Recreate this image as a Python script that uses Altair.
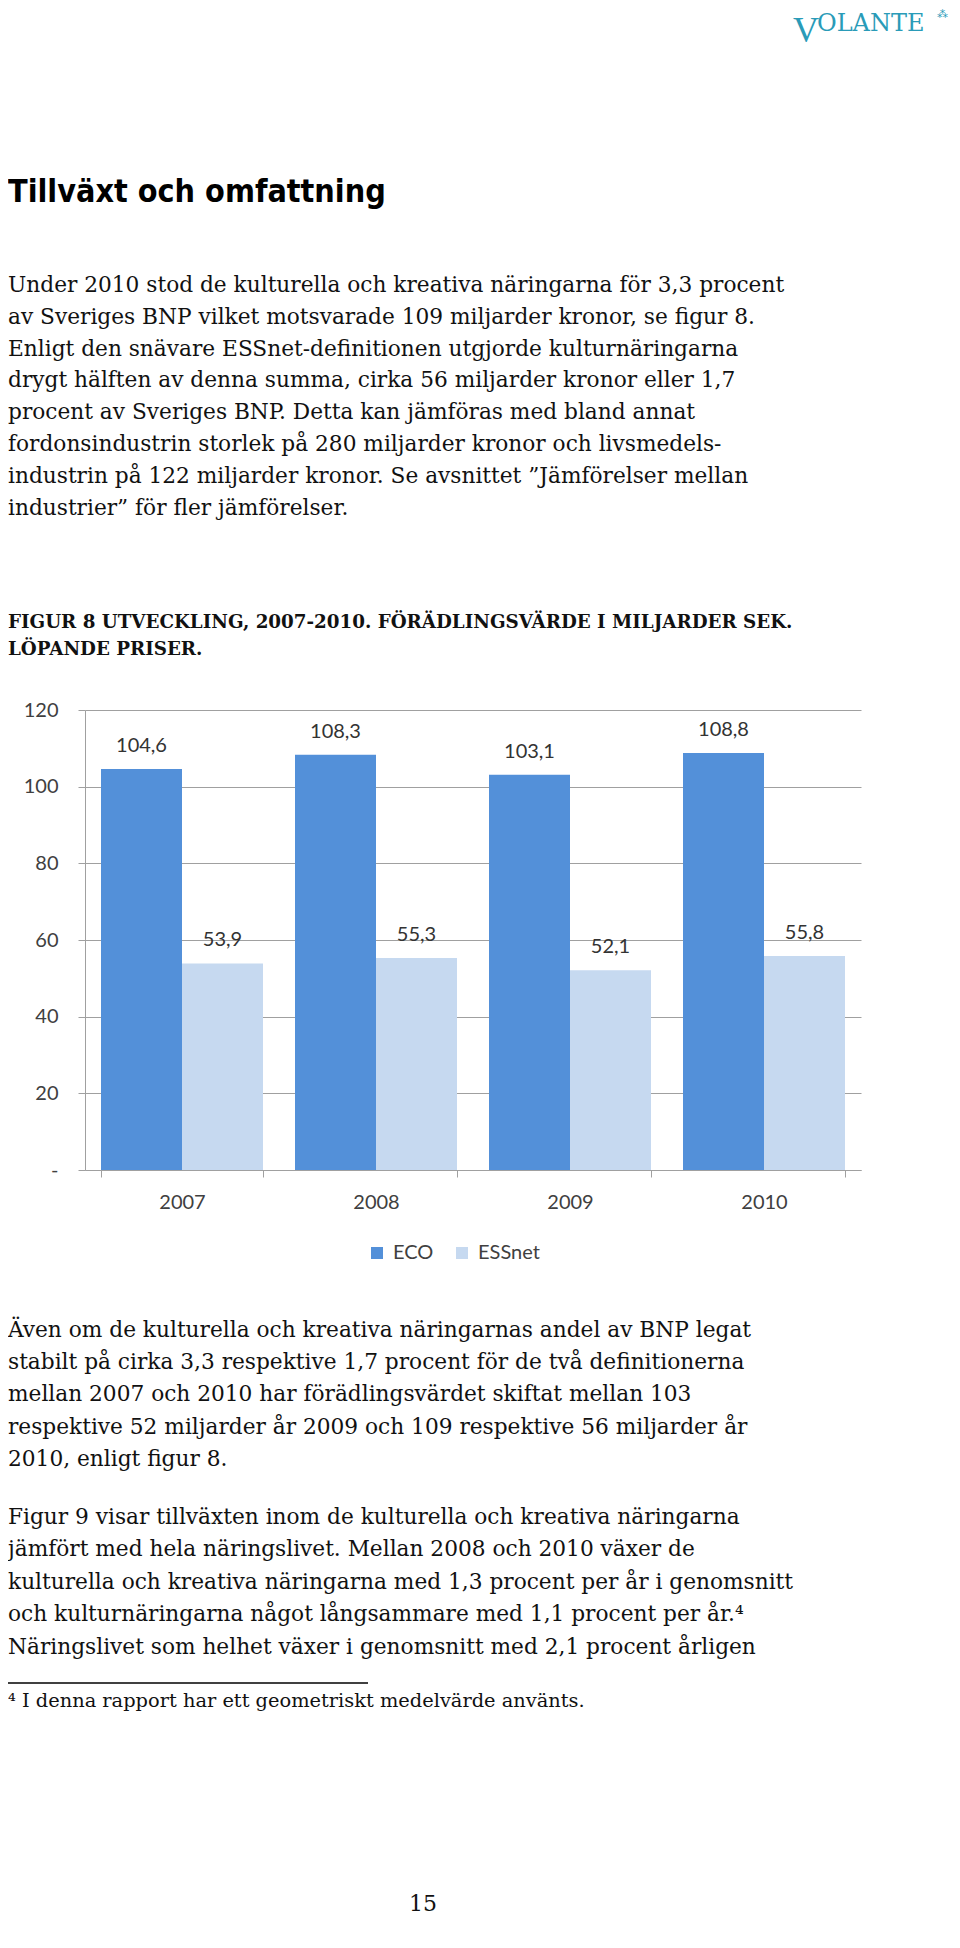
import altair as alt
import pandas as pd

# ---------------- data ----------------
years = ["2007", "2008", "2009", "2010"]
eco = [104.6, 108.3, 103.1, 108.8]
essnet = [53.9, 55.3, 52.1, 55.8]
series = ["ECO", "ESSnet"]
series_colors = ["#5390d9", "#c6d9f0"]
y_ticks = [0, 20, 40, 60, 80, 100, 120]

logo_big = "V"
logo_rest = "OLANTE"
logo_mark = "\u2042"
title_text = "Tillväxt och omfattning"
para1 = [
    "Under 2010 stod de kulturella och kreativa näringarna för 3,3 procent",
    "av Sveriges BNP vilket motsvarade 109 miljarder kronor, se figur 8.",
    "Enligt den snävare ESSnet-definitionen utgjorde kulturnäringarna",
    "drygt hälften av denna summa, cirka 56 miljarder kronor eller 1,7",
    "procent av Sveriges BNP. Detta kan jämföras med bland annat",
    "fordonsindustrin storlek på 280 miljarder kronor och livsmedels-",
    "industrin på 122 miljarder kronor. Se avsnittet \u201dJämförelser mellan",
    "industrier\u201d för fler jämförelser.",
]
caption = [
    "FIGUR 8 UTVECKLING, 2007-2010. FÖRÄDLINGSVÄRDE I MILJARDER SEK.",
    "LÖPANDE PRISER.",
]
para2 = [
    "Även om de kulturella och kreativa näringarnas andel av BNP legat",
    "stabilt på cirka 3,3 respektive 1,7 procent för de två definitionerna",
    "mellan 2007 och 2010 har förädlingsvärdet skiftat mellan 103",
    "respektive 52 miljarder år 2009 och 109 respektive 56 miljarder år",
    "2010, enligt figur 8.",
]
para3 = [
    "Figur 9 visar tillväxten inom de kulturella och kreativa näringarna",
    "jämfört med hela näringslivet. Mellan 2008 och 2010 växer de",
    "kulturella och kreativa näringarna med 1,3 procent per år i genomsnitt",
    "och kulturnäringarna något långsammare med 1,1 procent per år.\u2074",
    "Näringslivet som helhet växer i genomsnitt med 2,1 procent årligen",
]
footnote = "\u2074 I denna rapport har ett geometriskt medelvärde använts."
page_number = "15"

# ---------------- table ----------------
rows = []
for i, yr in enumerate(years):
    rows.append({"year": yr, "series": "ECO", "value": eco[i]})
    rows.append({"year": yr, "series": "ESSnet", "value": essnet[i]})
df = pd.DataFrame(rows)
df["label"] = df["value"].map(lambda v: f"{v:.1f}".replace(".", ","))

W, H = 776, 460
GRAY = "#a0a0a0"
CHART_FONT = "Lato"
BODY_FONT = "DejaVu Serif"
TEAL = "#2a9bb8"
LEFT = -77

x_enc = alt.X(
    "year:N",
    sort=years,
    scale=alt.Scale(paddingInner=0.165, paddingOuter=0.0825),
    axis=alt.Axis(
        title=None, labelAngle=0, tickBand="extent", tickSize=7,
        labelPadding=15, labelFont=CHART_FONT, labelFontSize=20,
        labelColor="#404040", domainColor=GRAY, tickColor=GRAY, grid=False,
    ),
)
y_enc = alt.Y(
    "value:Q",
    scale=alt.Scale(domain=[0, 120], nice=False),
    axis=alt.Axis(
        title=None, values=y_ticks, tickSize=7, labelPadding=20,
        labelExpr="datum.value == 0 ? '-' : datum.label",
        labelFont=CHART_FONT, labelFontSize=20, labelColor="#404040",
        domainColor=GRAY, tickColor=GRAY, gridColor=GRAY, grid=True,
    ),
)

bars = alt.Chart(df).mark_bar().encode(
    x=x_enc,
    xOffset=alt.XOffset("series:N", sort=series, scale=alt.Scale(paddingInner=0, paddingOuter=0)),
    y=y_enc,
    color=alt.Color(
        "series:N",
        scale=alt.Scale(domain=series, range=series_colors),
        legend=alt.Legend(
            title=None, orient="none", legendX=282, legendY=533,
            direction="horizontal", symbolType="square", symbolSize=144,
            symbolStrokeWidth=0, labelFont=CHART_FONT, labelFontSize=20,
            labelColor="#404040", labelOffset=6, columnPadding=18, padding=0,
        ),
    ),
)

labels = alt.Chart(df).mark_text(
    baseline="alphabetic", dy=-17, font=CHART_FONT, fontSize=20, color="#333333"
).encode(
    x=alt.X("year:N", sort=years),
    xOffset=alt.XOffset("series:N", sort=series),
    y="value:Q",
    text="label:N",
)


def text_block(lines, x, y, font, size, line_height=None, weight="normal",
               color="#111111", align="left"):
    kw = dict(align=align, baseline="alphabetic", font=font, fontSize=size,
              fontWeight=weight, color=color)
    if line_height:
        kw["lineHeight"] = line_height
    return alt.Chart(alt.Data(values=[{}])).mark_text(**kw).encode(
        x=alt.value(x), y=alt.value(y), text=alt.value(lines)
    )


texts = [
    text_block(logo_big, 708, -668, "Liberation Serif", 36, color=TEAL),
    text_block(logo_rest, 732, -679, "DejaVu Serif", 24, color=TEAL),
    text_block(logo_mark, 852, -692, "DejaVu Sans", 11, color=TEAL),
    text_block(title_text, LEFT, -508, "DejaVu Sans Condensed, DejaVu Sans, sans-serif", 32, weight="bold", color="#000000"),
    text_block(para1, LEFT, -418, BODY_FONT, 21.7, line_height=31.8),
    text_block(caption, LEFT, -82, BODY_FONT, 18.3, line_height=27, weight="bold"),
    text_block(para2, LEFT, 627, BODY_FONT, 21.7, line_height=32.2),
    text_block(para3, LEFT, 814, BODY_FONT, 21.7, line_height=32.4),
    text_block(footnote, LEFT, 997, BODY_FONT, 19.4),
    text_block(page_number, 338, 1201, BODY_FONT, 22, align="center"),
]

rule = alt.Chart(alt.Data(values=[{}])).mark_rule(color="#000000", strokeWidth=1.6).encode(
    x=alt.value(LEFT), x2=alt.value(283), y=alt.value(973)
)

chart = alt.layer(bars, labels, rule, *texts).properties(
    width=W,
    height=H,
    padding={"left": 77, "top": 702, "right": 91, "bottom": 770},
    autosize=alt.AutoSizeParams(type="none"),
).configure_view(stroke=None)

chart.save("out.html", embed_options={"renderer": "svg", "actions": False})
